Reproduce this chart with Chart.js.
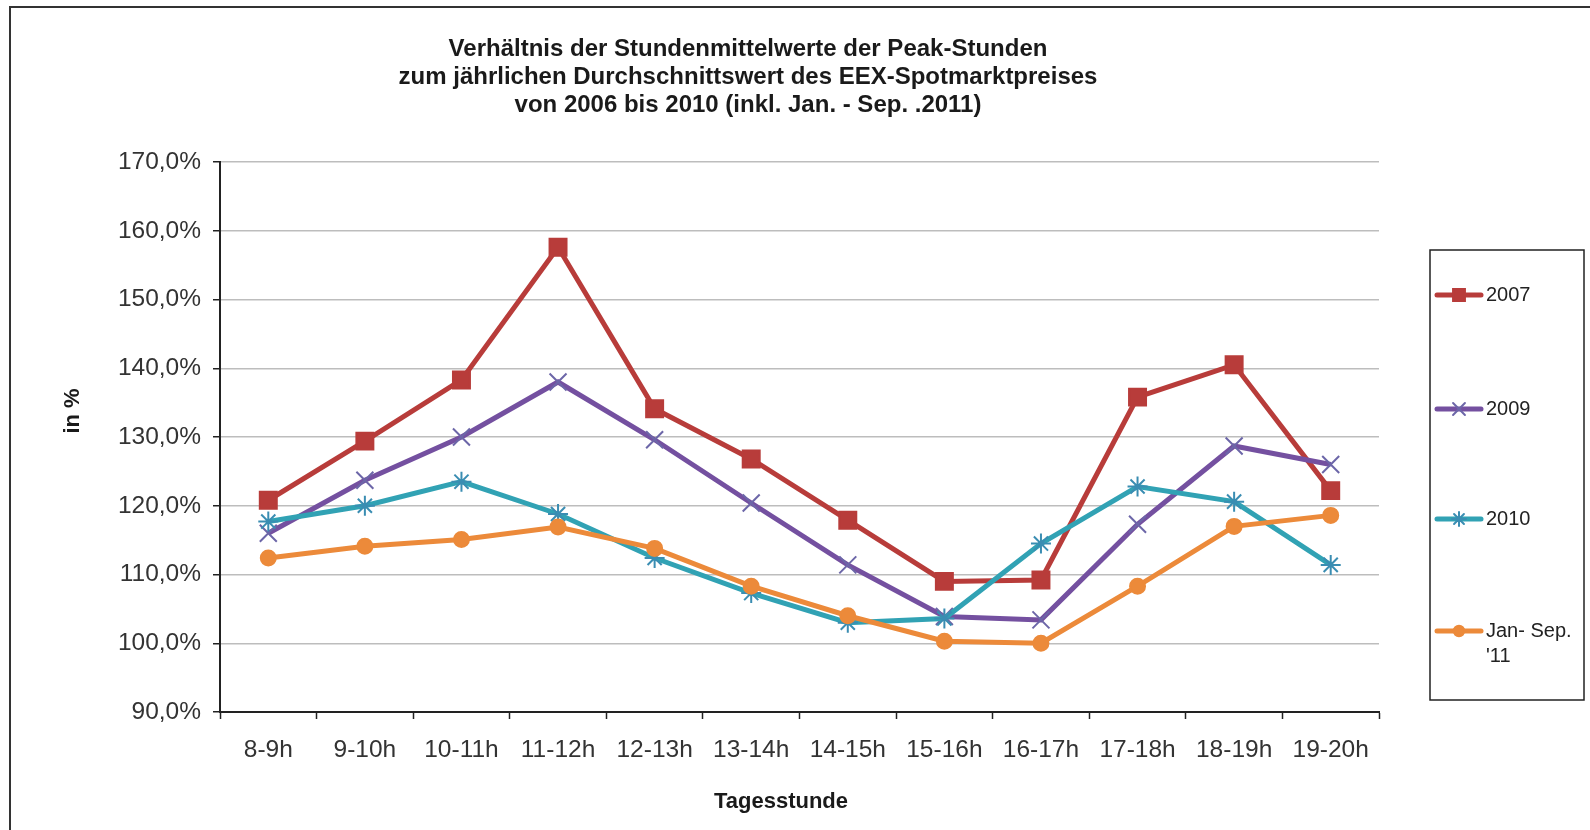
<!DOCTYPE html>
<html>
<head>
<meta charset="utf-8">
<script src="https://cdn.jsdelivr.net/npm/chart.js@4/dist/chart.umd.min.js"></script>
<style>
  html, body { margin: 0; padding: 0; background: #fff; }
  #wrap { position: relative; width: 1590px; height: 830px; }
</style>
</head>
<body>
<div id="wrap"><canvas id="c" width="1590" height="830"></canvas></div>
<script>
const hours = ['8-9h', '9-10h', '10-11h', '11-12h', '12-13h', '13-14h', '14-15h', '15-16h', '16-17h', '17-18h', '18-19h', '19-20h'];
const y2007 = [120.8, 129.4, 138.3, 157.6, 134.1, 126.8, 117.9, 109.0, 109.2, 135.8, 140.5, 122.2];
const y2009 = [116.0, 123.7, 130.0, 138.0, 129.6, 120.4, 111.4, 103.9, 103.4, 117.3, 128.7, 126.0];
const y2010 = [117.7, 120.0, 123.5, 118.8, 112.4, 107.3, 103.0, 103.6, 114.5, 122.8, 120.6, 111.4];
const y2011 = [112.4, 114.1, 115.1, 116.9, 113.8, 108.3, 104.0, 100.3, 100.0, 108.3, 117.0, 118.6];
const yTicks = [90, 100, 110, 120, 130, 140, 150, 160, 170];

const titleLines = [
    'Verhältnis der Stundenmittelwerte der Peak-Stunden',
    'zum jährlichen Durchschnittswert des EEX-Spotmarktpreises',
    'von 2006 bis 2010 (inkl. Jan. - Sep. .2011)'
];
const xTitle = 'Tagesstunde';
const yTitle = 'in %';

const FONT = "'Liberation Sans', Arial, sans-serif";

function series(label, data, color, markerColor, style, radius, order) {
    return {
        label: label,
        data: data,
        borderColor: color,
        backgroundColor: color,
        pointBackgroundColor: color,
        pointBorderColor: markerColor,
        pointStyle: style,
        pointRadius: radius,
        pointBorderWidth: 2,
        borderWidth: 5,
        tension: 0,
        order: order
    };
}

// outer frame of the original picture
const framePlugin = {
    id: 'frame',
    beforeDraw(chart) {
        const ctx = chart.ctx;
        ctx.save();
        ctx.fillStyle = '#fff';
        ctx.fillRect(0, 0, chart.width, chart.height);
        ctx.strokeStyle = '#333';
        ctx.lineWidth = 2;
        ctx.beginPath();
        ctx.moveTo(10, chart.height + 5);
        ctx.lineTo(10, 7);
        ctx.lineTo(chart.width + 5, 7);
        ctx.stroke();
        ctx.restore();
    }
};

// chart title and axis titles sit off-centre in the original, so place them here
const titlesPlugin = {
    id: 'titles',
    afterDraw(chart) {
        const ctx = chart.ctx;
        ctx.save();
        ctx.fillStyle = '#1a1a1a';
        ctx.textAlign = 'center';
        ctx.textBaseline = 'middle';
        ctx.font = 'bold 24px ' + FONT;
        titleLines.forEach((t, i) => ctx.fillText(t, 748, 49 + i * 28));
        ctx.font = 'bold 22px ' + FONT;
        ctx.fillText(xTitle, 781, 802);
        ctx.translate(73, 411);
        ctx.rotate(-Math.PI / 2);
        ctx.fillText(yTitle, 0, 0);
        ctx.restore();
    }
};

// boxed legend on the right, one entry per dataset
const boxLegend = {
    id: 'boxLegend',
    afterDraw(chart) {
        const ctx = chart.ctx;
        const box = { x: 1430, y: 250, w: 154, h: 450 };
        const rows = [295, 409, 519, 631];
        ctx.save();
        ctx.strokeStyle = '#222';
        ctx.lineWidth = 1.5;
        ctx.strokeRect(box.x, box.y, box.w, box.h);
        ctx.font = '20px ' + FONT;
        ctx.textBaseline = 'middle';
        chart.data.datasets.forEach((ds, i) => {
            const y = rows[i];
            ctx.strokeStyle = ds.borderColor;
            ctx.fillStyle = ds.borderColor;
            ctx.lineWidth = 5;
            ctx.lineCap = 'round';
            ctx.beginPath();
            ctx.moveTo(1437, y);
            ctx.lineTo(1481, y);
            ctx.stroke();
            ctx.strokeStyle = ds.pointBorderColor;
            ctx.lineWidth = 2;
            Chart.helpers.drawPoint(ctx, {
                pointStyle: ds.pointStyle,
                radius: ds.pointRadius * 0.7,
                rotation: 0,
                borderWidth: 2
            }, 1459, y);
            ctx.fillStyle = '#222';
            const lines = ds.legendLines || [ds.label];
            lines.forEach((t, k) => ctx.fillText(t, 1486, y + k * 25));
        });
        ctx.restore();
    }
};

const datasets = [
    series('2007', y2007, '#B83C3A', '#B83C3A', 'rect', 12, 4),
    series('2009', y2009, '#7450A0', '#6C66A8', 'crossRot', 12, 3),
    series('2010', y2010, '#31A2B4', '#3A8DB2', 'star', 10, 2),
    series("Jan- Sep. '11", y2011, '#EC8A3A', '#EC8A3A', 'circle', 7.5, 1)
];
datasets[3].legendLines = ['Jan- Sep.', "'11"];

new Chart(document.getElementById('c'), {
    type: 'line',
    data: { labels: hours, datasets: datasets },
    plugins: [framePlugin, titlesPlugin, boxLegend],
    options: {
        responsive: false,
        animation: false,
        devicePixelRatio: 1,
        layout: { padding: { top: 162, left: 0, right: 211, bottom: 0 } },
        plugins: {
            legend: { display: false },
            tooltip: { enabled: false },
            title: { display: false }
        },
        scales: {
            x: {
                offset: true,
                grid: {
                    offset: true,
                    drawOnChartArea: false,
                    tickLength: 7,
                    tickColor: '#222',
                    tickWidth: 1.5
                },
                border: { color: '#222', width: 2 },
                ticks: {
                    color: '#333',
                    font: { family: FONT, size: 24.5 },
                    padding: 17,
                    maxRotation: 0,
                    autoSkip: false
                },
                afterFit(scale) { scale.height = 118; }
            },
            y: {
                min: 90,
                max: 170,
                afterBuildTicks(scale) { scale.ticks = yTicks.map(v => ({ value: v })); },
                grid: {
                    color: '#BDBDBD',
                    lineWidth: 1.5,
                    tickLength: 7,
                    tickColor: '#222',
                    tickWidth: 1.5
                },
                border: { color: '#222', width: 2 },
                ticks: {
                    color: '#333',
                    font: { family: FONT, size: 24.5 },
                    padding: 12,
                    callback: v => v.toFixed(1).replace('.', ',') + '%'
                },
                afterFit(scale) { scale.width = 220; }
            }
        }
    }
});
</script>
</body>
</html>
